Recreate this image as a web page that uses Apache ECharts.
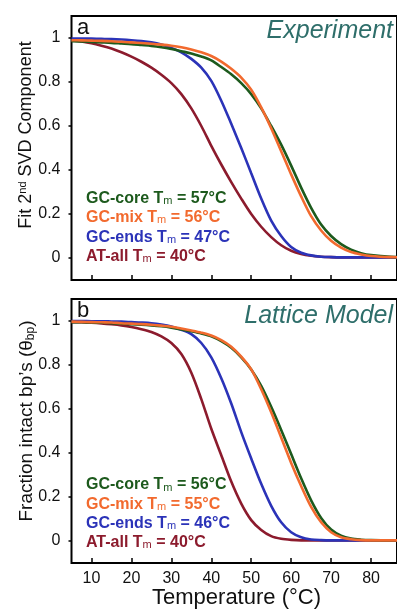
<!DOCTYPE html>
<html><head><meta charset="utf-8">
<script src="https://cdn.jsdelivr.net/npm/echarts@6/dist/echarts.min.js"></script>
<style>html,body{margin:0;padding:0;background:#fff}#c{width:397px;height:610px}</style>
</head><body><div id="c"></div>
<script>
// ---- data ----
const temps = [5,7.5,10,12.5,15,17.5,20,22.5,25,27.5,30,32.5,35,37.5,40,42.5,45,47.5,50,52.5,55,57.5,60,62.5,65,67.5,70,72.5,75,77.5,80,85,90];
// Experiment (panel a)
const expCore = [0.985,0.984,0.982,0.98,0.978,0.975,0.972,0.968,0.964,0.958,0.95,0.94,0.93,0.916,0.898,0.868,0.835,0.795,0.745,0.68,0.60,0.515,0.42,0.32,0.228,0.152,0.1,0.063,0.038,0.022,0.013,0.005,0.003];
const expMix  = [0.99,0.989,0.988,0.987,0.985,0.983,0.98,0.977,0.974,0.97,0.965,0.958,0.948,0.935,0.918,0.893,0.86,0.82,0.765,0.685,0.59,0.485,0.38,0.28,0.19,0.125,0.078,0.047,0.027,0.016,0.009,0.004,0.003];
const expEnds = [0.998,0.998,0.997,0.996,0.995,0.993,0.99,0.986,0.98,0.97,0.955,0.935,0.905,0.865,0.805,0.715,0.61,0.5,0.385,0.27,0.17,0.1,0.05,0.024,0.012,0.006,0.004,0.003,0.003,0.003,0.003,0.003,0.003];
const expAT   = [0.99,0.984,0.976,0.965,0.952,0.935,0.915,0.892,0.865,0.833,0.795,0.745,0.68,0.6,0.51,0.425,0.345,0.27,0.2,0.142,0.095,0.058,0.033,0.018,0.01,0.006,0.004,0.003,0.003,0.003,0.003,0.003,0.003];
// Lattice model (panel b)
const modCore = [0.995,0.994,0.993,0.992,0.99,0.988,0.985,0.983,0.98,0.976,0.97,0.962,0.953,0.943,0.93,0.908,0.878,0.835,0.78,0.705,0.61,0.505,0.395,0.285,0.185,0.105,0.052,0.024,0.011,0.006,0.004,0.003,0.003];
const modMix  = [0.997,0.996,0.995,0.994,0.993,0.99,0.988,0.986,0.983,0.979,0.974,0.966,0.957,0.947,0.934,0.913,0.883,0.838,0.78,0.69,0.585,0.47,0.355,0.25,0.155,0.085,0.04,0.017,0.008,0.004,0.003,0.003,0.003];
const modEnds = [1.0,1.0,0.999,0.999,0.998,0.997,0.995,0.993,0.99,0.984,0.975,0.96,0.94,0.9,0.835,0.74,0.625,0.495,0.375,0.26,0.16,0.085,0.04,0.017,0.007,0.004,0.003,0.003,0.003,0.003,0.003,0.003,0.003];
const modAT   = [0.995,0.994,0.992,0.989,0.985,0.98,0.973,0.963,0.95,0.93,0.9,0.85,0.765,0.645,0.51,0.39,0.27,0.17,0.095,0.05,0.022,0.01,0.005,0.003,0.003,0.003,0.003,0.003,0.003,0.003,0.003,0.003,0.003];

const seriesNames = ['GC-core','GC-mix','GC-ends','AT-all'];
const tmExp = [57,56,47,40];
const tmMod = [56,55,46,40];
const colors = ['#1d5a1d','#f26a2e','#2b33b8','#8c1b2d'];
const xTicks = [10,20,30,40,50,60,70,80];
const yTicks = [0,0.2,0.4,0.6,0.8,1];
const panelLetters = ['a','b'];
const panelTitles = ['Experiment','Lattice Model'];
const yTitles = ['Fit 2{sup|nd} SVD Component','Fraction intact bp\u2019s (\u03b8{sub|bp})'];
const xTitle = 'Temperature (\u00b0C)';

// ---- chart ----
const chart = echarts.init(document.getElementById('c'), null, {renderer:'canvas'});
const FONT = 'Liberation Sans, Arial, sans-serif';
const grids = [
  {left:71.5, width:330, top:16, height:264, show:true, borderColor:'#000', borderWidth:2, backgroundColor:'transparent'},
  {left:71.5, width:330, top:299, height:264, show:true, borderColor:'#000', borderWidth:2, backgroundColor:'transparent'}
];
function xAx(i, labels){
  return {type:'value', gridIndex:i, min:5, max:86.5,
    axisLine:{show:false, onZero:false}, splitLine:{show:false},
    axisTick:{show:true, inside:true, length:5, customValues:xTicks, lineStyle:{color:'#000', width:1.5}},
    axisLabel:{show:labels, customValues:xTicks, color:'#111', fontSize:16, fontFamily:FONT, margin:8}};
}
function yAx(i){
  return {type:'value', gridIndex:i, min:-0.1, max:1.1,
    axisLine:{show:false, onZero:false}, splitLine:{show:false},
    axisTick:{show:true, inside:false, length:3, customValues:yTicks, lineStyle:{color:'#000', width:1.5}},
    axisLabel:{customValues:yTicks, color:'#111', fontSize:16, fontFamily:FONT, margin:11}};
}
const panelData = [[expCore,expMix,expEnds,expAT],[modCore,modMix,modEnds,modAT]];
const series = [];
panelData.forEach((arrs, p) => {
  [3,2,0,1].forEach(k => {
    series.push({type:'line', xAxisIndex:p, yAxisIndex:p, name:seriesNames[k]+p,
      data: temps.map((t,j)=>[t, arrs[k][j]]), smooth:0.3, showSymbol:false,
      lineStyle:{color:colors[k], width:2.6}, itemStyle:{color:colors[k]}, silent:true, animation:false});
  });
});

const graphics = [];
const legendTop = [200, 486.5];
const tms = [tmExp, tmMod];
[0,1].forEach(p => {
  seriesNames.forEach((n,k) => {
    graphics.push({type:'text', left:86, top:legendTop[p] + k*19.3 - 9.5, silent:true,
      style:{text: n + ' T{m|m} = ' + tms[p][k] + '\u00b0C', fill:colors[k],
        font:'bold 16px ' + FONT,
        rich:{m:{fontSize:11, fontWeight:'normal', fill:colors[k], verticalAlign:'bottom', padding:[5,0,0,0], fontFamily:FONT}}}});
  });
  graphics.push({type:'text', left:77, top:[16,299][p]+1, silent:true,
    style:{text:panelLetters[p], fill:'#111', font:'22px ' + FONT}});
  graphics.push({type:'text', right:4, top:[19,304][p], silent:true,
    style:{text:panelTitles[p], fill:'#2e6e6a', font:'italic 25px ' + FONT}});
});
graphics.push({type:'text', x:26, y:135, rotation:Math.PI/2, silent:true,
  style:{text:yTitles[0], fill:'#111', font:'18px ' + FONT, align:'center', verticalAlign:'middle',
    rich:{sup:{fontSize:11, verticalAlign:'top', fill:'#111', fontFamily:FONT}}}});
graphics.push({type:'text', x:27, y:421, rotation:Math.PI/2, silent:true,
  style:{text:yTitles[1], fill:'#111', font:'19px ' + FONT, align:'center', verticalAlign:'middle',
    rich:{sub:{fontSize:12, verticalAlign:'bottom', fill:'#111', fontFamily:FONT}}}});
graphics.push({type:'text', x:236.5, y:598, silent:true,
  style:{text:xTitle, fill:'#111', font:'22px ' + FONT, align:'center', verticalAlign:'middle'}});

chart.setOption({
  animation:false,
  grid: grids,
  xAxis: [xAx(0,false), xAx(1,true)],
  yAxis: [yAx(0), yAx(1)],
  series: series,
  graphic: graphics
});
</script></body></html>
